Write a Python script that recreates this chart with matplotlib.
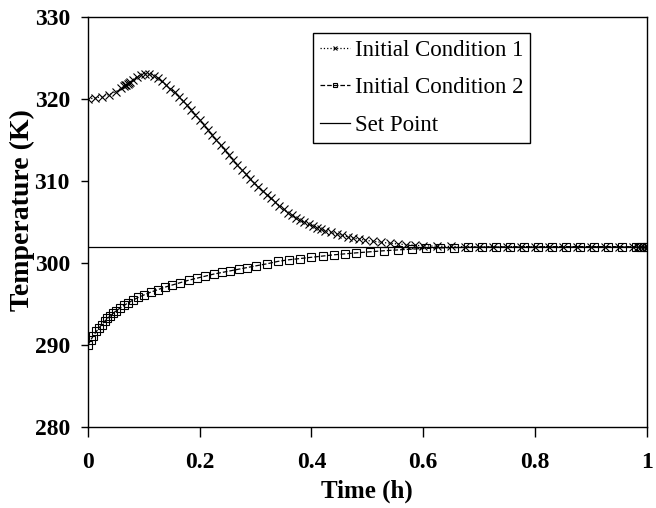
import matplotlib
matplotlib.use('Agg')
import matplotlib.pyplot as plt

plt.rcParams['font.family'] = ['Liberation Serif', 'DejaVu Serif']

# Initial Condition 1 (time in h, temperature in K)
t1 = [0.0, 0.0125, 0.025, 0.0375, 0.05, 0.06, 0.065, 0.067, 0.069, 0.071,
      0.073, 0.075, 0.08, 0.0875, 0.095, 0.1025, 0.11, 0.1175, 0.125, 0.1325,
      0.14, 0.1475, 0.155, 0.1625, 0.17, 0.1775, 0.185, 0.1925, 0.2, 0.2075,
      0.215, 0.2225, 0.23, 0.2375, 0.245, 0.2525, 0.26, 0.2675, 0.275, 0.2825,
      0.29, 0.2975, 0.305, 0.3125, 0.32, 0.3275, 0.335, 0.3425, 0.35, 0.3575,
      0.365, 0.3725, 0.38, 0.3875, 0.395, 0.4025, 0.41, 0.4175, 0.425, 0.435,
      0.445, 0.455, 0.465, 0.475, 0.485, 0.495, 0.51, 0.525, 0.54, 0.555,
      0.57, 0.585, 0.6, 0.625, 0.65, 0.675, 0.7, 0.725, 0.75, 0.775,
      0.8, 0.825, 0.85, 0.875, 0.9, 0.925, 0.95, 0.975, 0.985, 0.99,
      0.995, 1.0]
T1 = [320.0, 320.12, 320.3, 320.55, 320.9, 321.3, 321.55, 321.65, 321.75, 321.85,
      321.95, 322.05, 322.35, 322.7, 322.95, 323.1, 323.05, 322.85, 322.55, 322.15,
      321.7, 321.25, 320.8, 320.3, 319.8, 319.25, 318.7, 318.1, 317.5, 316.85,
      316.25, 315.6, 315.0, 314.35, 313.75, 313.15, 312.55, 311.95, 311.4, 310.85,
      310.3, 309.8, 309.3, 308.8, 308.35, 307.9, 307.45, 307.0, 306.55, 306.15,
      305.8, 305.5, 305.2, 304.95, 304.7, 304.5, 304.3, 304.1, 303.95, 303.75,
      303.55, 303.38, 303.2, 303.05, 302.92, 302.8, 302.65, 302.52, 302.42, 302.32,
      302.24, 302.16, 302.1, 302.05, 302.02, 302.0, 302.0, 302.0, 302.0, 302.0,
      302.0, 302.0, 302.0, 302.0, 302.0, 302.0, 302.0, 302.0, 302.0, 302.0,
      302.0, 302.0]

# Initial Condition 2
t2 = [0.0, 0.005, 0.01, 0.015, 0.02, 0.025, 0.03, 0.035, 0.04, 0.045,
      0.05, 0.0575, 0.065, 0.0725, 0.08, 0.09, 0.1, 0.1125, 0.125, 0.1375,
      0.15, 0.165, 0.18, 0.195, 0.21, 0.225, 0.24, 0.255, 0.27, 0.285,
      0.3, 0.32, 0.34, 0.36, 0.38, 0.4, 0.42, 0.44, 0.46, 0.48,
      0.505, 0.53, 0.555, 0.58, 0.605, 0.63, 0.655, 0.68, 0.705, 0.73,
      0.755, 0.78, 0.805, 0.83, 0.855, 0.88, 0.905, 0.93, 0.955, 0.98,
      0.99, 0.995, 1.0]
T2 = [290.0, 290.6, 291.15, 291.65, 292.1, 292.5, 292.9, 293.25, 293.55, 293.85,
      294.15, 294.5, 294.85, 295.15, 295.45, 295.8, 296.1, 296.45, 296.75, 297.05,
      297.3, 297.6, 297.9, 298.15, 298.4, 298.65, 298.85, 299.05, 299.25, 299.45,
      299.65, 299.9, 300.2, 300.4, 300.55, 300.7, 300.85, 301.0, 301.12, 301.24,
      301.37, 301.5, 301.6, 301.7, 301.78, 301.84, 301.88, 301.92, 301.95, 301.97,
      301.98, 302.0, 302.0, 302.0, 302.0, 302.0, 302.0, 302.0, 302.0, 302.0,
      302.0, 302.0, 302.0]

# set point
t_sp = [0.0, 1.0]
T_sp = [302.0, 302.0]

xticks = [0, 0.2, 0.4, 0.6, 0.8, 1.0]
xticklabels = ['0', '0.2', '0.4', '0.6', '0.8', '1']
yticks = [280, 290, 300, 310, 320, 330]

fig = plt.figure(figsize=(6.56, 5.08), dpi=100)
ax = fig.add_axes([0.134, 0.1594, 0.852, 0.8071])

ax.plot(t1, T1, linestyle=':', color='black', lw=0.9, marker='x',
        markersize=6, markeredgewidth=0.8, label='Initial Condition 1')
ax.plot(t2, T2, linestyle='--', color='black', lw=0.9, marker='s',
        markersize=6, markerfacecolor='none', markeredgewidth=0.8,
        label='Initial Condition 2')
ax.plot(t_sp, T_sp, linestyle='-', color='black', lw=0.9, label='Set Point')

ax.set_xlim(0, 1)
ax.set_ylim(280, 330)
ax.set_xticks(xticks)
ax.set_xticklabels(xticklabels)
ax.set_yticks(yticks)

for s in ax.spines.values():
    s.set_linewidth(1.0)
ax.tick_params(axis='x', direction='out', length=7, width=1, pad=11,
               labelsize=17)
ax.tick_params(axis='y', direction='out', length=5, width=1, pad=8,
               labelsize=17)
for lab in ax.get_xticklabels() + ax.get_yticklabels():
    lab.set_fontweight('bold')

ax.set_xlabel('Time (h)', fontsize=18, fontweight='bold', labelpad=5)
ax.set_ylabel('Temperature (K)', fontsize=20, fontweight='bold')
ax.yaxis.set_label_coords(-0.095, 0.53)

leg = ax.legend(loc='upper right', bbox_to_anchor=(0.791, 0.961),
                fontsize=16.5, frameon=True, fancybox=False, framealpha=1,
                edgecolor='black', markerscale=0.55, handlelength=1.3,
                handletextpad=0.2, borderpad=0.3, labelspacing=0.72,
                borderaxespad=0)
leg.get_frame().set_linewidth(1.0)

fig.savefig('out.png', dpi=100)
